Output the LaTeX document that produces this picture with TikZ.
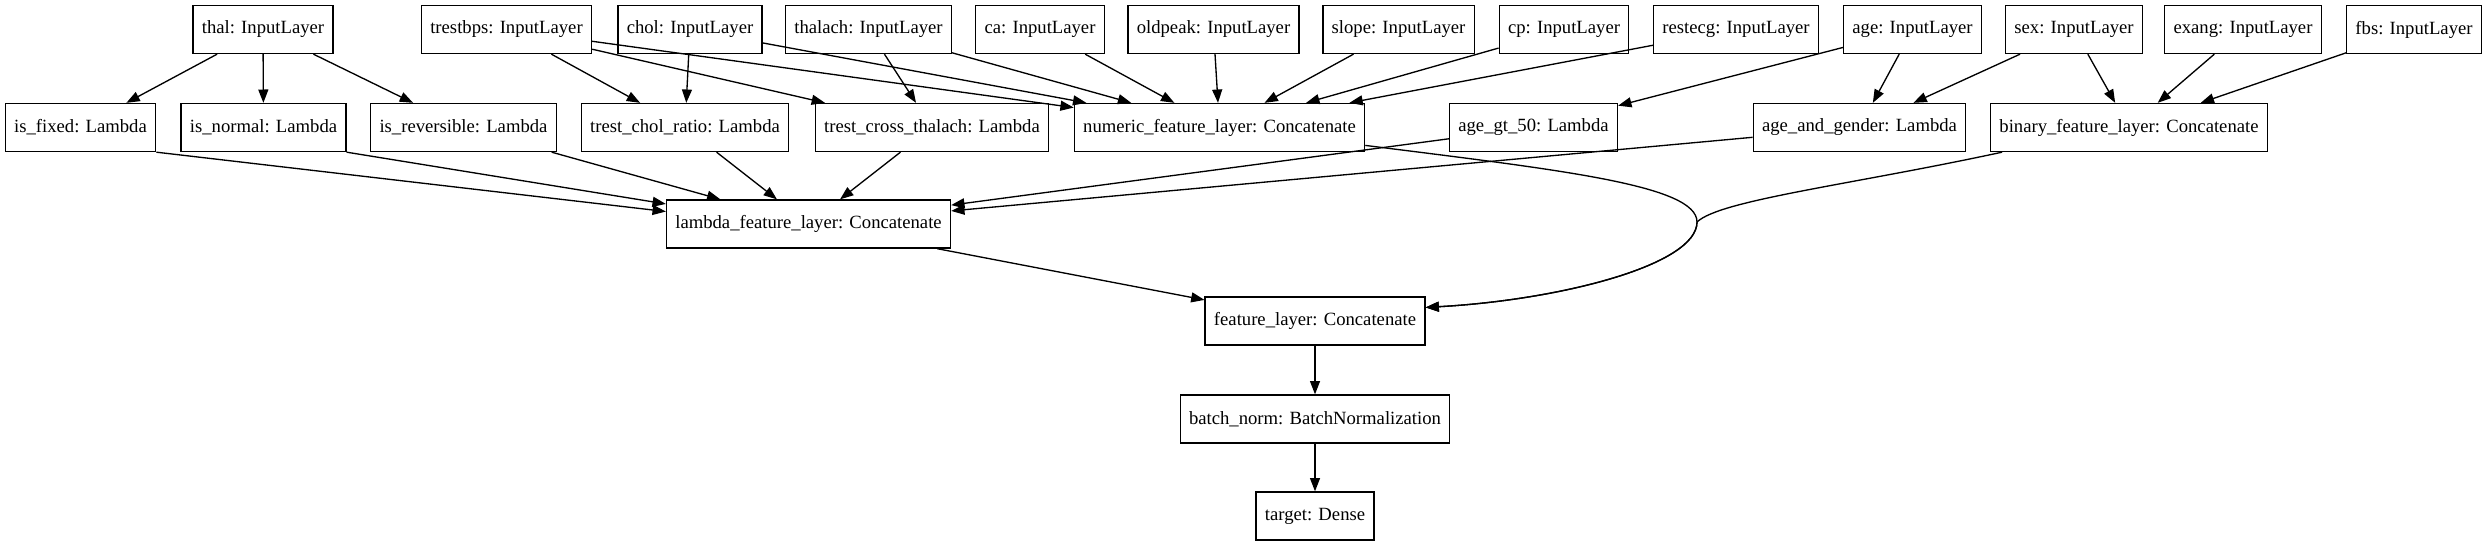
\documentclass[tikz,border=0pt]{standalone}
\usepackage{fontspec}
\setmainfont{Liberation Serif}
\usetikzlibrary{arrows.meta}
\tikzset{
    layerbox/.style={draw, line width=1pt, inner xsep=6.6pt, inner ysep=0pt, minimum height=36pt, font=\fontsize{14}{16}\selectfont},
    conn/.style={-{Triangle[length=10pt,width=7.5pt]}, line width=1pt},
}
\begin{document}
\begin{tikzpicture}[x=0.75pt,y=-0.75pt]
    \useasboundingbox (0,0) rectangle (2487,547);
    % input layers, top row
    \foreach \inp/\x in {thal/263,trestbps/506.5,chol/690,thalach/868.5,ca/1040,oldpeak/1213.5,slope/1398.5,cp/1564,restecg/1736,age/1912.5,sex/2074,exang/2243,fbs/2414} {
        \node[layerbox] (\inp) at (\x,29.5) {\inp: InputLayer};
    }
    % second row
    \node[layerbox] (isfixed) at (80.5,127.5) {is\_fixed: Lambda};
    \node[layerbox] (isnormal) at (263.5,127.5) {is\_normal: Lambda};
    \node[layerbox] (isrev) at (463.5,127.5) {is\_reversible: Lambda};
    \node[layerbox] (tcratio) at (685,127.5) {trest\_chol\_ratio: Lambda};
    \node[layerbox] (tcross) at (932,127.5) {trest\_cross\_thalach: Lambda};
    \node[layerbox] (numeric) at (1219.5,127.5) {numeric\_feature\_layer: Concatenate};
    \node[layerbox] (agegt) at (1533.5,127.5) {age\_gt\_50: Lambda};
    \node[layerbox] (agegender) at (1859.5,127.5) {age\_and\_gender: Lambda};
    \node[layerbox] (binary) at (2129,127.5) {binary\_feature\_layer: Concatenate};
    % merged layers
    \node[layerbox] (lambda) at (808.5,224) {lambda\_feature\_layer: Concatenate};
    \node[layerbox] (feature) at (1315,321) {feature\_layer: Concatenate};
    \node[layerbox] (bnorm) at (1315,419) {batch\_norm: BatchNormalization};
    \node[layerbox] (target) at (1315,516) {target: Dense};
    % connectors
    \foreach \dst in {isfixed,isnormal,isrev} \draw[conn] (thal) -- (\dst);
    \foreach \src in {trestbps,chol} \draw[conn] (\src) -- (tcratio);
    \foreach \src in {trestbps,thalach} \draw[conn] (\src) -- (tcross);
    \foreach \src in {trestbps,chol,thalach,ca,oldpeak,slope,cp,restecg} \draw[conn] (\src) -- (numeric);
    \draw[conn] (age) -- (agegt);
    \foreach \src in {age,sex} \draw[conn] (\src) -- (agegender);
    \foreach \src in {sex,exang,fbs} \draw[conn] (\src) -- (binary);
    \draw[conn] (isfixed.south east) -- (lambda.175);
    \draw[conn] (isnormal.south east) -- (lambda.172);
    \foreach \src in {isrev,tcratio,tcross,agegt,agegender} \draw[conn] (\src) -- (lambda);
    \draw[conn] (lambda) -- (feature);
    \coordinate (merge) at (1697,222);
    \draw[conn] (numeric.353.5) .. controls (1560,170) and (1697,185) .. (merge) .. controls (1697,265) and (1560,300) .. (feature.7);
    \draw[conn] (binary.191) .. controls (1850,185) and (1720,200) .. (merge) .. controls (1697,265) and (1560,300) .. (feature.7);
    \draw[conn] (feature) -- (bnorm);
    \draw[conn] (bnorm) -- (target);
\end{tikzpicture}
\end{document}
